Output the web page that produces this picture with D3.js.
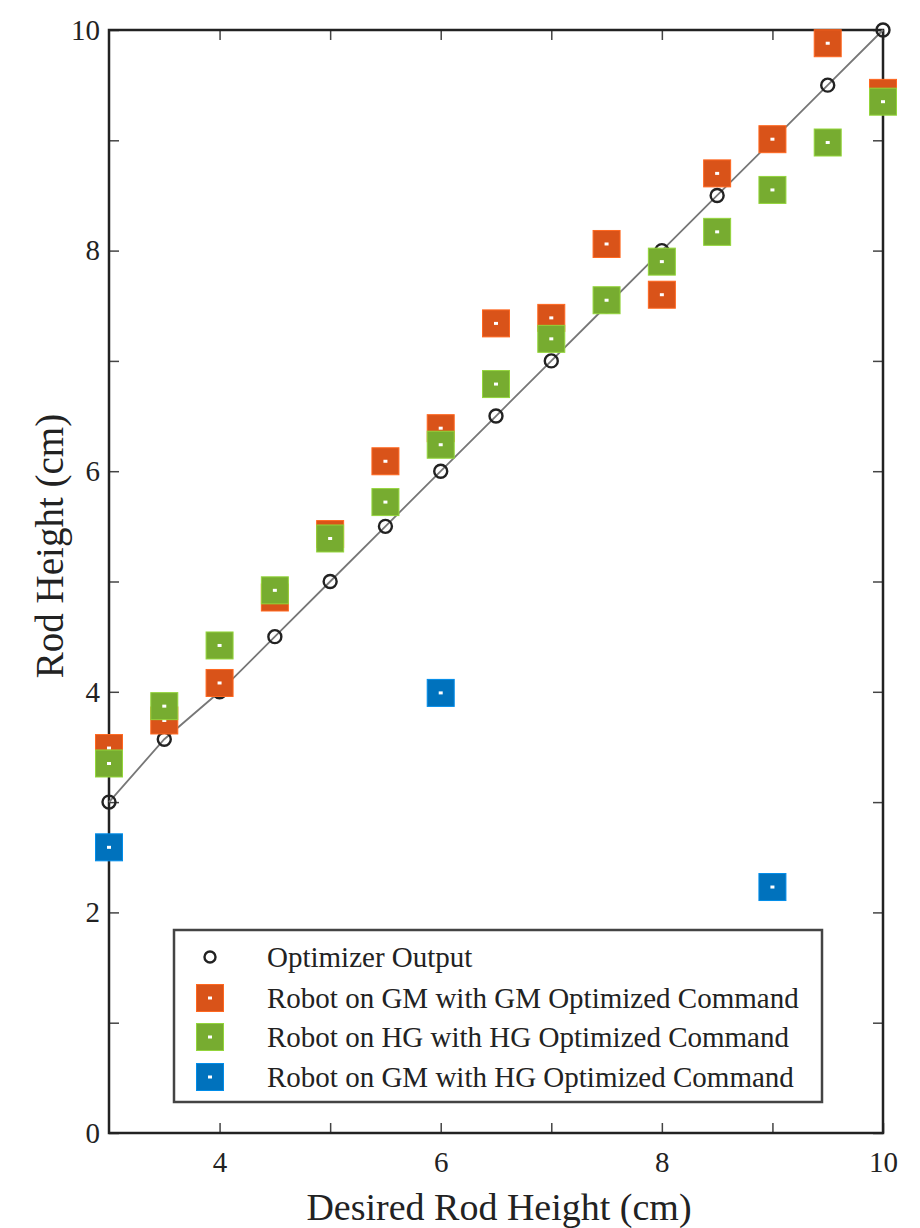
<!DOCTYPE html>
<html>
<head>
<meta charset="utf-8">
<script src="https://cdn.jsdelivr.net/npm/d3@7"></script>
<style>
  body { margin: 0; background: #fff; }
  text { font-family: "Liberation Serif", "Times New Roman", serif; fill: #222; }
</style>
</head>
<body>
<div id="plot"></div>
<script>
var desired = [3, 3.5, 4, 4.5, 5, 5.5, 6, 6.5, 7, 7.5, 8, 8.5, 9, 9.5, 10];
var optimizer = [3, 3.57, 4, 4.5, 5, 5.5, 6, 6.5, 7, 7.5, 8, 8.5, 9, 9.5, 10];
var gmWithGm = [3.49, 3.74, 4.08, 4.855, 5.43, 6.09, 6.39, 7.34, 7.39, 8.06, 7.60, 8.70, 9.01, 9.88, 9.43];
var hgWithHg = [3.35, 3.87, 4.42, 4.92, 5.39, 5.72, 6.24, 6.79, 7.20, 7.55, 7.90, 8.17, 8.55, 8.98, 9.35];
var gmWithHgX = [3, 6, 9];
var gmWithHgY = [2.59, 3.99, 2.23];

var legendLabels = ["Optimizer Output",
  "Robot on GM with GM Optimized Command",
  "Robot on HG with HG Optimized Command",
  "Robot on GM with HG Optimized Command"];
var xTicks = [4, 5, 6, 7, 8, 9, 10];
var yTicks = [0, 1, 2, 3, 4, 5, 6, 7, 8, 9, 10];

var red = "#D95319", green = "#77AC30", blue = "#0072BD";
var width = 920, height = 1228;
var plotL = 109, plotR = 883, plotT = 30, plotB = 1133;
var sq = 27;

var x = d3.scaleLinear().domain([3, 10]).range([plotL, plotR]);
var y = d3.scaleLinear().domain([0, 10]).range([plotB, plotT]);

var svg = d3.select("#plot")
  .append("svg")
  .attr("width", width)
  .attr("height", height);

// ticks (inward, mirrored on all four sides)
function tickFmt(d) { return d % 2 == 0 ? d : ""; }

var xb = svg.append("g")
  .attr("transform", "translate(0," + plotB + ")")
  .call(d3.axisBottom(x).tickValues(xTicks).tickSize(-10).tickPadding(18).tickFormat(tickFmt));
var xt = svg.append("g")
  .attr("transform", "translate(0," + plotT + ")")
  .call(d3.axisTop(x).tickValues(xTicks).tickSize(-10).tickFormat(""));
var yl = svg.append("g")
  .attr("transform", "translate(" + plotL + ",0)")
  .call(d3.axisLeft(y).tickValues(yTicks).tickSize(-10).tickPadding(9).tickFormat(tickFmt));
var yr = svg.append("g")
  .attr("transform", "translate(" + plotR + ",0)")
  .call(d3.axisRight(y).tickValues(yTicks).tickSize(-10).tickFormat(""));

[xb, xt, yl, yr].forEach(function (g) {
  g.select(".domain").remove();
  g.selectAll(".tick line").attr("stroke", "#444").attr("stroke-width", 1.5);
  g.selectAll(".tick text")
    .style("font-family", "'Liberation Serif', serif")
    .style("font-size", "29px")
    .attr("fill", "#222");
});

// frame
svg.append("rect")
  .attr("x", plotL).attr("y", plotT)
  .attr("width", plotR - plotL).attr("height", plotB - plotT)
  .attr("fill", "none")
  .attr("stroke", "#222")
  .attr("stroke-width", 2.5);

// axis titles
svg.append("text")
  .attr("x", 499).attr("y", 1220)
  .attr("text-anchor", "middle")
  .style("font-size", "38px")
  .text("Desired Rod Height (cm)");

svg.append("text")
  .attr("transform", "translate(63,546) rotate(-90)")
  .attr("text-anchor", "middle")
  .style("font-size", "39px")
  .text("Rod Height (cm)");

// optimizer line + circles
svg.append("path")
  .datum(desired.map(function (d, i) { return [d, optimizer[i]]; }))
  .attr("d", d3.line().x(function (d) { return x(d[0]); }).y(function (d) { return y(d[1]); }))
  .attr("fill", "none")
  .attr("stroke", "#777")
  .attr("stroke-width", 1.8);

svg.append("g").selectAll("circle")
  .data(desired)
  .enter().append("circle")
  .attr("cx", function (d) { return x(d); })
  .attr("cy", function (d, i) { return y(optimizer[i]); })
  .attr("r", 6.5)
  .attr("fill", "none")
  .attr("stroke", "#222")
  .attr("stroke-width", 2.4);

function squares(xs, ys, color) {
  var g = svg.append("g");
  g.selectAll("rect.m")
    .data(xs)
    .enter().append("rect")
    .attr("class", "m")
    .attr("x", function (d) { return x(d) - sq / 2; })
    .attr("y", function (d, i) { return y(ys[i]) - sq / 2; })
    .attr("width", sq).attr("height", sq)
    .attr("fill", color)
    .attr("stroke", d3.color(color).brighter(0.6))
    .attr("stroke-width", 1);
  g.selectAll("rect.dot")
    .data(xs)
    .enter().append("rect")
    .attr("class", "dot")
    .attr("x", function (d) { return x(d) - 2; })
    .attr("y", function (d, i) { return y(ys[i]) - 1.5; })
    .attr("width", 4).attr("height", 3)
    .attr("fill", "#fff");
}

squares(desired, gmWithGm, red);
squares(desired, hgWithHg, green);
squares(gmWithHgX, gmWithHgY, blue);

// legend
var lg = svg.append("g");
lg.append("rect")
  .attr("x", 174).attr("y", 930)
  .attr("width", 648).attr("height", 172)
  .attr("fill", "#fff")
  .attr("stroke", "#444")
  .attr("stroke-width", 2.5);

var rowY = [957, 998, 1037, 1077];
var colors = [null, red, green, blue];

legendLabels.forEach(function (t, i) {
  if (i == 0) {
    lg.append("circle")
      .attr("cx", 210).attr("cy", rowY[i]).attr("r", 5.5)
      .attr("fill", "none").attr("stroke", "#222").attr("stroke-width", 2.4);
  } else {
    lg.append("rect")
      .attr("x", 210 - sq / 2).attr("y", rowY[i] - sq / 2)
      .attr("width", sq).attr("height", sq)
      .attr("fill", colors[i])
      .attr("stroke", d3.color(colors[i]).brighter(0.6))
      .attr("stroke-width", 1);
    lg.append("rect")
      .attr("x", 208).attr("y", rowY[i] - 1.5)
      .attr("width", 4).attr("height", 3)
      .attr("fill", "#fff");
  }
  lg.append("text")
    .attr("x", 267).attr("y", rowY[i])
    .attr("dy", "0.35em")
    .style("font-size", "29px")
    .text(t);
});
</script>
</body>
</html>
